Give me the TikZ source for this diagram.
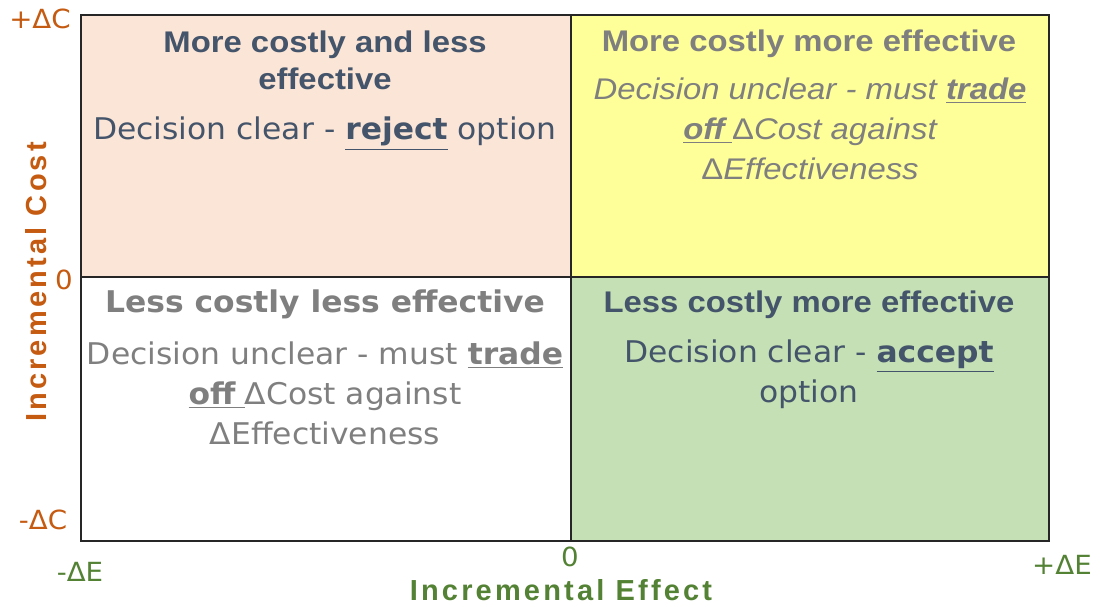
\documentclass[tikz,border=0pt]{standalone}
\usepackage{fontspec}
\setmainfont{Liberation Sans}[FakeStretch=1.1]
\newfontfamily\handfont{DejaVu Sans}[FakeStretch=1.05]
\newfontfamily\axisfont{Liberation Sans}[LetterSpace=11]
\usetikzlibrary{positioning}

\definecolor{pinkq}{HTML}{FBE5D6}
\definecolor{yellowq}{HTML}{FFFF99}
\definecolor{greenq}{HTML}{C5E0B4}
\definecolor{slate}{HTML}{44546A}
\definecolor{greyt}{HTML}{7F7F7F}
\definecolor{costc}{HTML}{C55A11}
\definecolor{effc}{HTML}{548235}
\definecolor{frame}{HTML}{262626}

\begin{document}
\begin{tikzpicture}[
    x=0.02cm, y=-0.02cm,
    quad/.style={
        draw=frame, line width=1.4pt, inner sep=0pt, anchor=north west
    },
    % multi-line nodes sit on the baseline of their last line
    head/.style={
        font=\fontsize{17}{21.5}\selectfont\bfseries, text=slate, align=center,
        inner sep=0pt, anchor=base
    },
    body/.style={
        font=\handfont\fontsize{17}{23}\selectfont, text=slate, align=center,
        inner sep=0pt, anchor=base
    },
    tick/.style={font=\handfont\fontsize{15}{18}\selectfont, inner sep=0pt},
    axis/.style={font=\axisfont\fontsize{16.5}{18}\selectfont\bfseries, inner sep=0pt}
]

\useasboundingbox (0,0) rectangle (1100,607);

% quadrants
\node[quad, fill=pinkq, minimum width=9.8cm, minimum height=5.24cm] (tl) at (80,14) {};
\node[quad, fill=yellowq, minimum width=9.56cm, minimum height=5.24cm] (tr) at (570,14) {};
\node[quad, fill=white, minimum width=9.8cm, minimum height=5.28cm] (bl) at (80,276) {};
\node[quad, fill=greenq, minimum width=9.56cm, minimum height=5.28cm] (br) at (570,276) {};

% texts
\node[head] (tlhead) at (325,90) {More costly and less\\effective};
\node[body] (tlbody) at (325,140) {Decision clear - \underline{\textbf{reject}} option};

\node[head, text=greyt] (trhead) at (809,52) {More costly more effective};
\node[body, font=\fontsize{17}{23}\selectfont\itshape, text=greyt] (trbody) at (810,180)
    {Decision unclear - must \underline{\textbf{trade}}\\
     \underline{\textbf{off}\hspace{0.25em}}\textup{Δ}Cost against\\
     \textup{Δ}Effectiveness};

\node[body, font=\handfont\fontsize{17}{24}\selectfont\bfseries, text=greyt] (blhead) at (325,313) {Less costly less effective};
\node[body, text=greyt] (blbody) at (325,445)
    {Decision unclear - must \underline{\textbf{trade}}\\
     \underline{\textbf{off}\hspace{0.3em}}ΔCost against\\
     ΔEffectiveness};

\node[head] (brhead) at (809,313) {Less costly more effective};
\node[body] (brbody) at (809,403) {Decision clear - \underline{\textbf{accept}}\\option};

% axis ticks
\node[tick, text=costc] (cplus) at (40,19) {+ΔC};
\node[tick, text=costc] (czero) at (64,280) {0};
\node[tick, text=costc] (cminus) at (43,520) {-ΔC};
\node[tick, text=effc] (eminus) at (80,572) {-ΔE};
\node[tick, text=effc] (ezero) at (570,557) {0};
\node[tick, text=effc] (eplus) at (1062,565) {+ΔE};

% axis titles
\node[axis, text=costc, rotate=90] (costlbl) at (36,282) {Incremental Cost};
\node[axis, text=effc] (efflbl) at (561,590) {Incremental Effect};

\end{tikzpicture}
\end{document}
